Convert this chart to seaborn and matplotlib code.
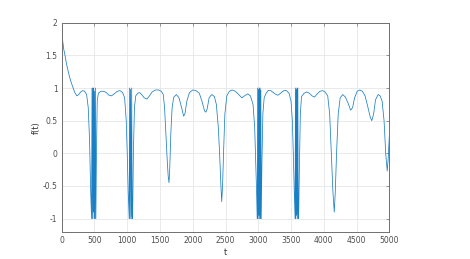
import numpy as np
import pandas as pd
import matplotlib
matplotlib.use("Agg")
import matplotlib.pyplot as plt
import seaborn as sns

# Values (t, f(t))
t_start = [0, 15, 30, 50, 75, 100, 125, 150, 175, 200, 230, 260, 290, 320, 350, 380, 405, 425, 440]
f_start = [1.95, 1.72, 1.6, 1.5, 1.36, 1.25, 1.15, 1.07, 1.0, 0.93, 0.88, 0.9, 0.94, 0.96, 0.95, 0.9, 0.7, 0.2, -0.5]

# burst near t=500
t_burst1 = [455, 463, 470, 476, 482, 488, 494, 500, 507, 514, 521]
f_burst1 = [-1, 1, -1, 1, -0.9, 1, -1, 0.95, -1, 1, -1]

t_mid1 = [530, 542, 560, 600, 640, 680, 720, 760, 800, 850, 890, 930, 960, 985, 1000, 1015]
f_mid1 = [0.0, 0.8, 0.92, 0.95, 0.95, 0.93, 0.89, 0.88, 0.91, 0.95, 0.96, 0.93, 0.85, 0.5, 0.0, -0.6]

# burst near t=1050
t_burst2 = [1030, 1037, 1044, 1050, 1062, 1068, 1075, 1082]
f_burst2 = [-1, 1, -1, 0.98, -1, 1, -0.95, -1]

t_mid2 = [1094, 1110, 1130, 1160, 1190, 1220, 1260, 1300, 1340, 1380, 1430, 1480, 1520, 1550,
          1570, 1590, 1610, 1625, 1638, 1650, 1665, 1685, 1710, 1750, 1790, 1830, 1860, 1880,
          1910, 1950, 2000, 2050, 2100, 2140, 2180, 2200, 2220, 2250, 2290, 2330, 2360, 2390,
          2410, 2430, 2442, 2455, 2470, 2490, 2520, 2560, 2600, 2650, 2700, 2750, 2790, 2840,
          2880, 2920, 2945, 2960, 2975]
f_mid2 = [0.0, 0.7, 0.88, 0.92, 0.93, 0.9, 0.85, 0.83, 0.88, 0.94, 0.97, 0.97, 0.95, 0.9,
          0.7, 0.3, -0.1, -0.35, -0.45, -0.2, 0.3, 0.7, 0.86, 0.9, 0.85, 0.7, 0.57, 0.6,
          0.8, 0.93, 0.97, 0.96, 0.92, 0.8, 0.65, 0.63, 0.68, 0.85, 0.9, 0.87, 0.75, 0.4,
          0.0, -0.5, -0.74, -0.5, 0.0, 0.6, 0.88, 0.95, 0.97, 0.95, 0.9, 0.85, 0.88, 0.91,
          0.88, 0.75, 0.4, -0.1, -0.6]

# burst near t=3000
t_burst3 = [2985, 2991, 2997, 3003, 3009, 3015, 3021, 3027, 3033, 3039, 3045]
f_burst3 = [-1, 1, -1, 0.98, -0.95, 1, -1, 1, -1, 0.97, -1]

t_mid3 = [3055, 3070, 3090, 3120, 3150, 3190, 3230, 3270, 3300, 3340, 3390, 3430, 3470, 3500,
          3520, 3535, 3550]
f_mid3 = [-0.2, 0.6, 0.85, 0.92, 0.96, 0.96, 0.93, 0.9, 0.89, 0.92, 0.96, 0.96, 0.92, 0.8,
          0.5, 0.0, -0.6]

# burst near t=3600
t_burst4 = [3562, 3568, 3574, 3580, 3586, 3592, 3598, 3604, 3610, 3616]
f_burst4 = [-1, 1, -1, 0.98, -0.95, 1, -1, 1, -0.9, -1]

t_end = [3628, 3642, 3660, 3700, 3740, 3780, 3820, 3858, 3900, 3940, 3980, 4020, 4060, 4090,
         4115, 4140, 4160, 4175, 4195, 4220, 4250, 4290, 4330, 4370, 4410, 4440, 4470, 4510,
         4550, 4590, 4630, 4670, 4710, 4733, 4760, 4790, 4830, 4860, 4890, 4920, 4945, 4968,
         4982, 5000]
f_end = [-0.2, 0.6, 0.87, 0.92, 0.94, 0.92, 0.88, 0.86, 0.91, 0.95, 0.96, 0.94, 0.88, 0.6,
         0.0, -0.6, -0.9, -0.6, 0.0, 0.6, 0.85, 0.9, 0.86, 0.77, 0.66, 0.7, 0.85, 0.95,
         0.97, 0.95, 0.88, 0.72, 0.55, 0.5, 0.6, 0.82, 0.9, 0.88, 0.8, 0.5, 0.0, -0.27,
         -0.1, 0.26]

t_vals = t_start + t_burst1 + t_mid1 + t_burst2 + t_mid2 + t_burst3 + t_mid3 + t_burst4 + t_end
f_vals = f_start + f_burst1 + f_mid1 + f_burst2 + f_mid2 + f_burst3 + f_mid3 + f_burst4 + f_end
df = pd.DataFrame({"t": t_vals, "f": f_vals})

x_ticks = [0, 500, 1000, 1500, 2000, 2500, 3000, 3500, 4000, 4500, 5000]
y_ticks = [-1, -0.5, 0, 0.5, 1, 1.5, 2]
y_labels = ["-1", "-0.5", "0", "0.5", "1", "1.5", "2"]

sns.set_theme(style="whitegrid")
plt.rcParams["font.family"] = ["DejaVu Sans"]

fig = plt.figure(figsize=(4.7, 2.59), dpi=100)
ax = fig.add_axes([0.1313, 0.1054, 0.697, 0.807])

sns.lineplot(data=df, x="t", y="f", ax=ax, color="#1a7fc4", linewidth=0.55,
             estimator=None, sort=False)

ax.set_xlim(0, 5000)
ax.set_ylim(-1.2, 2)
ax.set_xticks(x_ticks)
ax.set_xticklabels([str(v) for v in x_ticks])
ax.set_yticks(y_ticks)
ax.set_yticklabels(y_labels)
ax.grid(True, color="#e6e6e6", linewidth=0.6)
ax.set_facecolor("white")
for s in ax.spines.values():
    s.set_visible(True)
    s.set_color("#707070")
    s.set_linewidth(0.7)
ax.tick_params(axis="both", direction="in", length=2.5, width=0.5, colors="#707070",
               labelsize=5.5, labelcolor="#4d4d4d", top=True, right=True, pad=3)
ax.set_xlabel("t", fontsize=6, color="#333333", labelpad=2)
ax.set_ylabel("f(t)", fontsize=6, color="#333333", labelpad=1.5)

fig.savefig("out.png", dpi=100, facecolor="white")
